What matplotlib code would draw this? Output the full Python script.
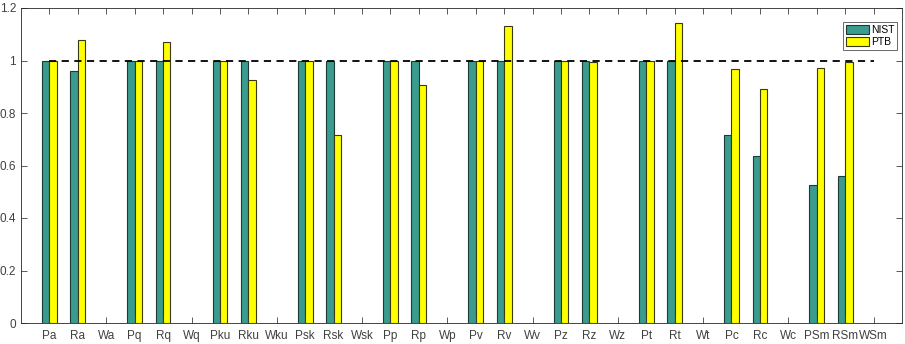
import numpy as np
import matplotlib.pyplot as plt

plt.rcParams['font.family'] = ['Liberation Sans', 'DejaVu Sans']

# Parameter names (W* have no data)
labels = ['Pa', 'Ra', 'Wa', 'Pq', 'Rq', 'Wq', 'Pku', 'Rku', 'Wku', 'Psk', 'Rsk', 'Wsk',
          'Pp', 'Rp', 'Wp', 'Pv', 'Rv', 'Wv', 'Pz', 'Rz', 'Wz', 'Pt', 'Rt', 'Wt',
          'Pc', 'Rc', 'Wc', 'PSm', 'RSm', 'WSm']
nan = np.nan
nist = [1.0, 0.96, nan, 1.0, 1.0, nan, 1.0, 1.0, nan, 1.0, 1.0, nan,
        1.0, 1.0, nan, 1.0, 1.0, nan, 1.0, 1.0, nan, 1.0, 1.0, nan,
        0.716, 0.636, nan, 0.527, 0.561, nan]
ptb = [1.0, 1.08, nan, 1.0, 1.071, nan, 1.0, 0.925, nan, 1.0, 0.717, nan,
       1.0, 0.906, nan, 1.0, 1.131, nan, 1.0, 0.994, nan, 1.0, 1.141, nan,
       0.968, 0.892, nan, 0.971, 0.996, nan]

x = np.arange(1, len(labels) + 1)
nist = np.array(nist)
ptb = np.array(ptb)
w = 0.26

fig = plt.figure(figsize=(9.05, 3.44), dpi=100)
ax = fig.add_axes([21 / 905, 21 / 344, 881 / 905, 315 / 344])

m = ~np.isnan(nist)
ax.bar(x[m] - w / 2, nist[m], w, color='#3a9c8e', edgecolor='#1e3a36', linewidth=0.8, label='NIST')
m = ~np.isnan(ptb)
ax.bar(x[m] + w / 2, ptb[m], w, color='#ffff00', edgecolor='#3a3a10', linewidth=0.8, label='PTB')

ax.plot([1, len(labels)], [1, 1], 'k--', linewidth=1.3, dashes=(4, 3))

ax.set_xlim(0, len(labels) + 1)
ax.set_ylim(0, 1.2)
ax.set_xticks(x)
ax.set_xticklabels(labels)
ax.set_yticks([0, 0.2, 0.4, 0.6, 0.8, 1.0, 1.2])
ax.set_yticklabels(['0', '0.2', '0.4', '0.6', '0.8', '1', '1.2'])
ax.tick_params(direction='in', top=True, right=True, labelsize=8.5, colors='#404040',
               length=4, width=0.6)
ax.tick_params(axis='x', pad=5)
for s in ax.spines.values():
    s.set_color('#262626')
    s.set_linewidth(0.6)

leg = ax.legend(loc='upper right', fontsize=7.5, frameon=True, fancybox=False,
                handlelength=2.2, handleheight=1.0, handletextpad=0.2,
                borderpad=0.3, labelspacing=0.15, borderaxespad=0.4,
                bbox_to_anchor=(0.9995, 0.97))
leg.get_frame().set_edgecolor('#262626')
leg.get_frame().set_linewidth(0.6)

fig.savefig('out.png', dpi=100)
